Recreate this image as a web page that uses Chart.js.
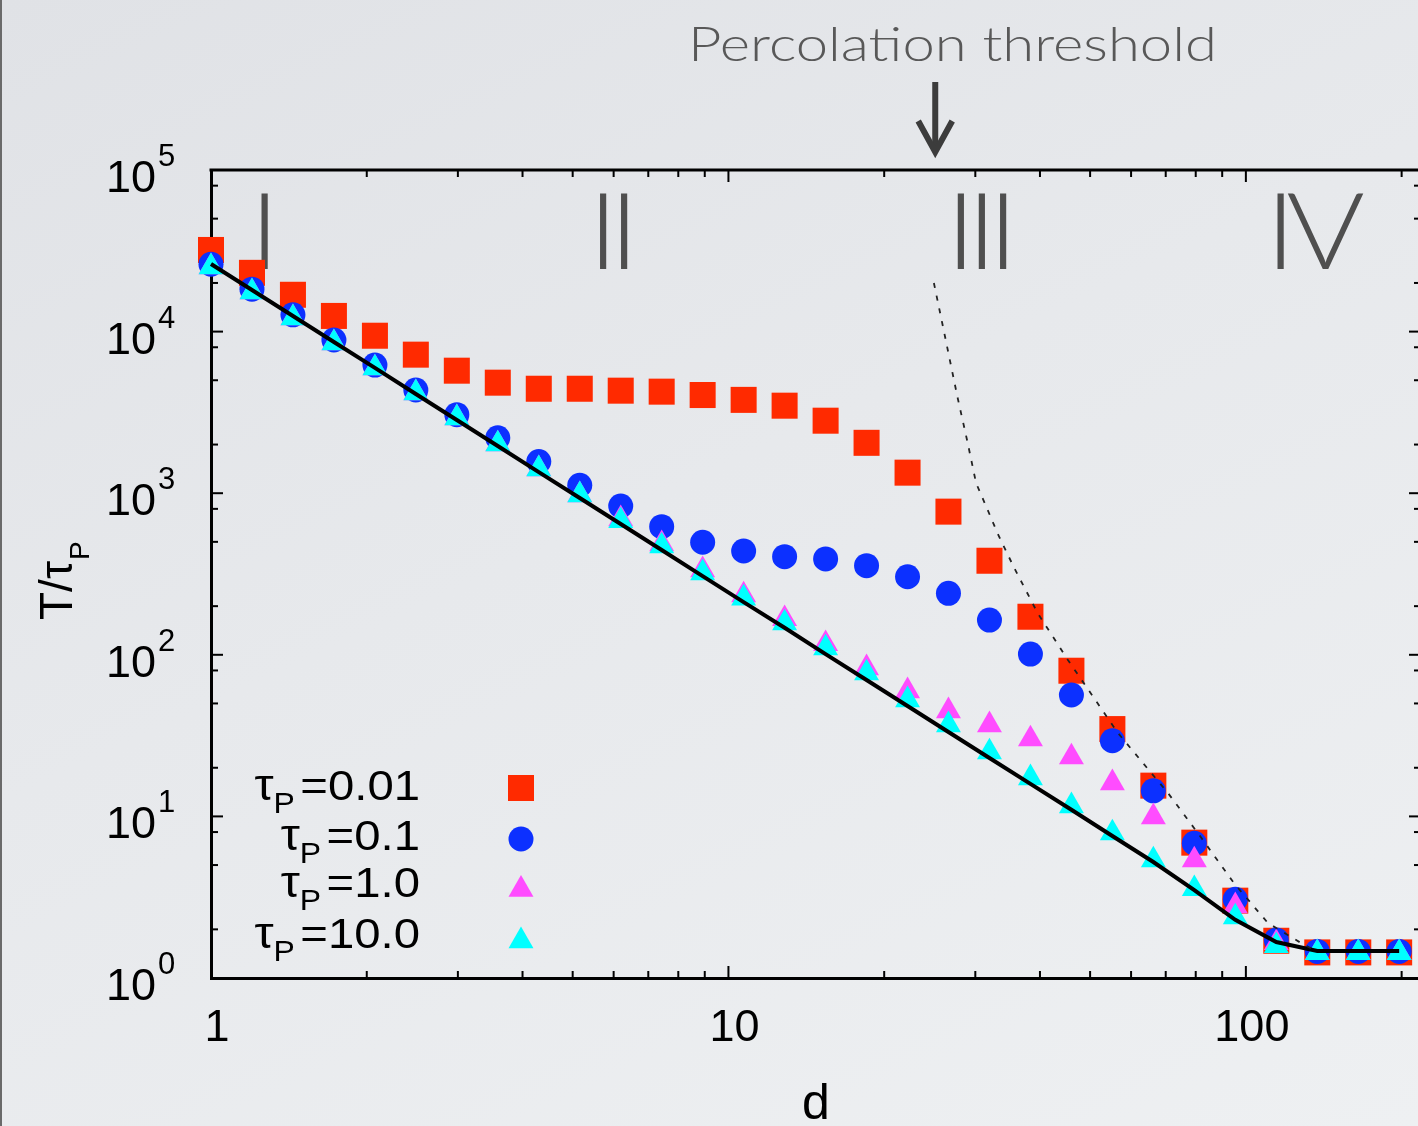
<!DOCTYPE html>
<html><head><meta charset="utf-8">
<script src="https://cdn.jsdelivr.net/npm/chart.js@4.4.1/dist/chart.umd.min.js"></script>
<style>
html,body{margin:0;padding:0;width:1418px;height:1126px;overflow:hidden;}
body{background:linear-gradient(155deg,#e0e2e6 0%,#e7e9ec 45%,#eef0f2 100%);position:relative;}
#wrap{position:absolute;left:0;top:0;width:1418px;height:1126px;overflow:hidden;}
#edge{position:absolute;left:0;top:0;width:2px;height:1126px;background:#6a6a6a;}
</style></head><body>
<div id="wrap"><canvas id="c" width="1424" height="1126"></canvas></div>
<div id="edge"></div>
<script>
// ---------------- data ----------------
const dValues = [1, 1.2, 1.44, 1.728, 2.074, 2.488, 2.986, 3.583, 4.300, 5.160,
  6.192, 7.430, 8.916, 10.70, 12.84, 15.41, 18.49, 22.19, 26.62, 31.95,
  38.34, 46.01, 55.21, 66.25, 79.50, 95.40, 114.5, 137.4, 164.9, 197.8];
const tau001 = [32000, 23100, 16900, 12500, 9430, 7200, 5730, 4830, 4430, 4430,
  4310, 4250, 4050, 3780, 3480, 2810, 2050, 1340, 769, 382,
  172, 79.7, 34.7, 15.5, 6.88, 3.01, 1.70, 1.44, 1.44, 1.44];
const tau01 = [26100, 18300, 12700, 8870, 6210, 4350, 3060, 2200, 1570, 1120,
  833, 621, 497, 439, 405, 392, 356, 304, 240, 164,
  101, 56.4, 29.4, 14.4, 6.82, 3.07, 1.72, 1.46, 1.46, 1.46];
const tau1 = [25100, 17580, 12140, 8500, 5950, 4170, 2920, 2015, 1412, 975,
  693, 485, 335, 234, 167, 117, 82.9, 59.7, 44.9, 36.8,
  30.1, 23.3, 16.1, 9.92, 5.37, 2.79, 1.65, 1.43, 1.43, 1.43];
const tau10 = [25100, 17580, 12140, 8500, 5950, 4170, 2920, 2015, 1412, 975,
  674, 471, 321, 224, 157, 110, 77.1, 52.5, 36.8, 25.0,
  17.3, 11.6, 7.89, 5.37, 3.56, 2.38, 1.58, 1.43, 1.43, 1.43];
const theoryT = [26200, 18100, 12500, 8630, 5960, 4110, 2840, 1960, 1350, 934,
  645, 445, 307, 212, 147, 101, 69.8, 48.2, 33.3, 23.0,
  15.9, 11.0, 7.56, 5.22, 3.50, 2.29, 1.67, 1.47, 1.47, 1.47];
const percD = [24.95, 26.3, 27.7, 29.0, 30.1, 31.7, 33.1, 35.6, 39.6, 45.3, 56.6, 70.7, 81.8, 94.8, 110.3, 127.7, 137.7];
const percT = [20000, 8870, 3956, 2046, 1156, 787, 567, 349, 181, 92.9, 32.8, 13.96, 7.46, 3.87, 2.19, 1.65, 1.45];

const seriesLabels = ['0.01', '0.1', '1.0', '10.0'];
const xTickValues = [1, 10, 100];
const xTickLabels = ['1', '10', '100'];
const yTickExponents = [0, 1, 2, 3, 4, 5];
const regionLabels = ['I', 'II', 'III', 'IV'];
const regionD = [1.27, 6.0, 30.9, 136];
const thresholdD = 25.1;
const annotationText = 'Percolation threshold';

// ---------------- styles ----------------
const FONT = '"Liberation Sans", Arial, Helvetica, sans-serif';
const LIGHT = 'Lato, "Open Sans", "Noto Sans", sans-serif';
const C_RED = '#ff2a00', C_BLUE = '#0c30ff', C_MAG = '#ff4cff', C_CYAN = '#00ffff';
const R_SQ = 18.4, R_CI = 12.5, R_TR = 14.4;

const pts = (xs, ys) => xs.map((v, i) => ({x: v, y: ys[i]}));

function marker(ctx, style, x, y, color) {
  ctx.fillStyle = color;
  ctx.beginPath();
  if (style === 'rect') {
    const s = Math.SQRT1_2 * R_SQ;
    ctx.rect(x - s, y - s, 2 * s, 2 * s);
  } else if (style === 'circle') {
    ctx.arc(x, y, R_CI, 0, Math.PI * 2);
  } else {
    const r = R_TR;
    ctx.moveTo(x, y - r);
    ctx.lineTo(x + r * Math.sin(2 * Math.PI / 3), y + r / 2);
    ctx.lineTo(x - r * Math.sin(2 * Math.PI / 3), y + r / 2);
    ctx.closePath();
  }
  ctx.fill();
}

const decor = {
  id: 'decor',
  beforeDatasetsDraw(chart) {
    const {ctx, chartArea: a, scales: {x, y}} = chart;
    ctx.save();
    ctx.strokeStyle = '#000';
    ctx.lineWidth = 3;
    ctx.beginPath();
    ctx.moveTo(a.left - 1.5, a.top);
    ctx.lineTo(a.right, a.top);
    ctx.lineTo(a.right, a.bottom);
    ctx.stroke();
    ctx.lineWidth = 2;
    const tk = (x1, y1, x2, y2) => { ctx.beginPath(); ctx.moveTo(x1, y1); ctx.lineTo(x2, y2); ctx.stroke(); };
    for (let e = 0; e <= 2; e++) {
      for (let m = 1; m <= 9; m++) {
        const v = m * Math.pow(10, e);
        if (v > x.max) break;
        const px = x.getPixelForValue(v);
        const L = m === 1 ? 12 : 7;
        tk(px, a.bottom, px, a.bottom - L);
        tk(px, a.top, px, a.top + L);
      }
    }
    for (let e = 0; e <= 5; e++) {
      [1, 2, 5, 8].forEach(m => {
        const v = m * Math.pow(10, e);
        if (v > y.max) return;
        const py = y.getPixelForValue(v);
        const L = m === 1 ? 12 : 7;
        tk(a.left, py, a.left + L, py);
        tk(a.right, py, a.right - L, py);
      });
    }
    // region numerals
    ctx.fillStyle = '#4f4f4f';
    ctx.font = `300 107px ${LIGHT}`;
    ctx.textAlign = 'center';
    ctx.textBaseline = 'alphabetic';
    ctx.letterSpacing = '-9px';
    regionLabels.forEach((t, i) => {
      ctx.save();
      ctx.translate(x.getPixelForValue(regionD[i]), 269);
      ctx.scale(1.12, 1);
      ctx.fillText(t, -4.5, 0);
      ctx.restore();
    });
    ctx.letterSpacing = '0px';
    ctx.restore();
  },
  afterDraw(chart) {
    const {ctx, chartArea: a, scales: {x, y}} = chart;
    ctx.save();
    ctx.fillStyle = '#000';
    ctx.textBaseline = 'alphabetic';
    // y tick labels 10^n
    yTickExponents.forEach(e => {
      const py = y.getPixelForValue(Math.pow(10, e));
      ctx.font = `45px ${FONT}`;
      ctx.textAlign = 'right';
      ctx.fillText('10', 156, py + 22);
      ctx.font = `31px ${FONT}`;
      ctx.textAlign = 'left';
      ctx.fillText(String(e), 158, py - 4);
    });
    // y title T/τP (rotated)
    ctx.save();
    ctx.translate(72, 620);
    ctx.rotate(-Math.PI / 2);
    ctx.textAlign = 'left';
    ctx.font = `46px ${FONT}`;
    ctx.fillText('T/τ', 0, 0);
    const wt = ctx.measureText('T/τ').width;
    ctx.font = `28px ${FONT}`;
    ctx.fillText('P', wt + 1, 17);
    ctx.restore();
    // legend
    const bases = [800, 850, 897, 948];
    const mks = [['rect', C_RED, 788], ['circle', C_BLUE, 839], ['tri', C_MAG, 889.5], ['tri', C_CYAN, 941]];
    seriesLabels.forEach((lab, i) => {
      const b = bases[i];
      ctx.save();
      ctx.translate(420, b);
      ctx.scale(1.1, 1);
      ctx.fillStyle = '#000';
      ctx.textAlign = 'right';
      ctx.font = `43px ${FONT}`;
      const t = '=' + lab;
      ctx.fillText(t, 0, 0);
      const w1 = ctx.measureText(t).width + 5;
      ctx.font = `29px ${FONT}`;
      ctx.fillText('P', -w1, 13);
      const wP = ctx.measureText('P').width;
      ctx.font = `44px ${FONT}`;
      ctx.fillText('τ', -w1 - wP, 0);
      ctx.restore();
      marker(ctx, mks[i][0], 521, mks[i][2], mks[i][1]);
    });
    // percolation threshold annotation
    ctx.fillStyle = '#585858';
    ctx.font = `300 48px ${LIGHT}`;
    ctx.textAlign = 'left';
    const w = ctx.measureText(annotationText).width;
    ctx.save();
    ctx.translate(688, 61);
    ctx.scale(529 / w, 1);
    ctx.fillText(annotationText, 0, 0);
    ctx.restore();
    // arrow
    const ax = x.getPixelForValue(thresholdD);
    ctx.strokeStyle = '#3c3c3c';
    ctx.lineWidth = 6;
    ctx.lineJoin = 'miter';
    ctx.beginPath(); ctx.moveTo(ax, 82); ctx.lineTo(ax, 150); ctx.stroke();
    ctx.beginPath(); ctx.moveTo(ax - 17, 121); ctx.lineTo(ax, 152); ctx.lineTo(ax + 17, 121); ctx.stroke();
    ctx.restore();
  }
};

const ctx = document.getElementById('c').getContext('2d');
new Chart(ctx, {
  type: 'scatter',
  data: {
    datasets: [
      {label: 'percolation', type: 'line', data: pts(percD, percT), showLine: true, borderColor: '#222',
       borderWidth: 1.8, borderDash: [5, 8], pointRadius: 0, fill: false, clip: false},
      {label: 'theory', type: 'line', data: pts(dValues, theoryT), showLine: true, borderColor: '#000',
       borderWidth: 4, pointRadius: 0, fill: false, clip: false},
      {label: 'τP=10.0', data: pts(dValues, tau10), pointStyle: 'triangle', pointRadius: R_TR,
       backgroundColor: C_CYAN, borderWidth: 0, clip: false},
      {label: 'τP=1.0', data: pts(dValues, tau1), pointStyle: 'triangle', pointRadius: R_TR,
       backgroundColor: C_MAG, borderWidth: 0, clip: false},
      {label: 'τP=0.1', data: pts(dValues, tau01), pointStyle: 'circle', pointRadius: R_CI,
       backgroundColor: C_BLUE, borderWidth: 0, clip: false},
      {label: 'τP=0.01', data: pts(dValues, tau001), pointStyle: 'rect', pointRadius: R_SQ,
       backgroundColor: C_RED, borderWidth: 0, clip: false}
    ]
  },
  options: {
    responsive: false,
    devicePixelRatio: 1,
    animation: false,
    events: [],
    layout: {autoPadding: false, padding: {top: 170, right: 3, left: 0, bottom: 0}},
    plugins: {legend: {display: false}, tooltip: {enabled: false}},
    scales: {
      x: {
        type: 'logarithmic', min: 1, max: 218, position: 'bottom',
        grid: {display: false, drawTicks: false},
        border: {display: true, color: '#000', width: 3},
        ticks: {font: {family: FONT, size: 45}, color: '#000', padding: 24, labelOffset: 6, maxRotation: 0, autoSkip: false,
          callback: v => { const i = xTickValues.indexOf(v); return i >= 0 ? xTickLabels[i] : ''; }},
        title: {display: true, text: 'd', color: '#000', font: {family: FONT, size: 50, lineHeight: 0.85}, padding: 0},
        afterBuildTicks: s => { s.ticks = xTickValues.map(v => ({value: v})); },
        afterFit: s => { s.height = 148; }
      },
      y: {
        type: 'logarithmic', min: 1, max: 100000, position: 'left',
        grid: {display: false, drawTicks: false},
        border: {display: true, color: '#000', width: 3},
        ticks: {display: false},
        afterFit: s => { s.width = 211; }
      }
    }
  },
  plugins: [decor]
});
</script></body></html>
